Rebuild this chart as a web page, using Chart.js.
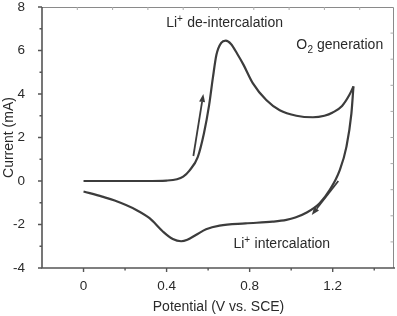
<!DOCTYPE html>
<html>
<head>
<meta charset="utf-8">
<script src="https://cdn.jsdelivr.net/npm/chart.js@4"></script>
<style>
  html, body { margin: 0; padding: 0; background: #fff; }
  canvas { display: block; }
</style>
</head>
<body>
<canvas id="cv" width="397" height="316"></canvas>
<script>
// forward (anodic) scan, 0 V -> 1.3 V
const potentialFwd = [0, 0.1, 0.2, 0.3, 0.4, 0.45, 0.48, 0.51, 0.55, 0.58, 0.605, 0.623, 0.64, 0.663, 0.685, 0.71, 0.74, 0.77, 0.815, 0.88, 0.945, 1.025, 1.105, 1.16, 1.2, 1.245, 1.28, 1.30];
const currentFwd   = [0, 0, 0, 0, 0.02, 0.08, 0.2, 0.48, 1.1, 2.2, 3.5, 4.75, 5.8, 6.35, 6.45, 6.3, 5.85, 5.35, 4.5, 3.72, 3.25, 3.0, 2.93, 3.0, 3.15, 3.45, 3.95, 4.35];

// reverse (cathodic) scan, 1.3 V -> 0 V
const potentialRev = [1.30, 1.29, 1.266, 1.234, 1.186, 1.137, 1.075, 1.02, 0.977, 0.91, 0.78, 0.655, 0.59, 0.543, 0.5, 0.47, 0.43, 0.382, 0.318, 0.254, 0.15, 0.09, 0];
const currentRev   = [4.35, 3.1, 1.57, 0.5, -0.41, -1.02, -1.45, -1.68, -1.79, -1.87, -1.95, -2.05, -2.22, -2.47, -2.7, -2.77, -2.67, -2.32, -1.71, -1.33, -0.9, -0.72, -0.48];

// axis ticks
const xMajorTicks = [0, 0.4, 0.8, 1.2];
const xMinorTicks = [0.2, 0.6, 1.0, 1.4];
const yMajorTicks = [-4, -2, 0, 2, 4, 6, 8];
const yMinorTicks = [-3, -1, 1, 3, 5, 7];

// annotations (data units)
const arrows = [
  { from: [0.529, 1.15], to: [0.577, 4.0] },
  { from: [1.227, 0.0], to: [1.099, -1.56] }
];
const notes = [
  { x: 0.398, y: 7.10, parts: [['Li', 'n'], ['+', 'sup'], [' de-intercalation', 'n']] },
  { x: 1.024, y: 6.05, parts: [['O', 'n'], ['2', 'sub'], [' generation', 'n']] },
  { x: 0.722, y: -3.08, parts: [['Li', 'n'], ['+', 'sup'], [' intercalation', 'n']] }
];

const FONT = "'Liberation Sans', Arial, Helvetica, sans-serif";
const TEXT_COLOR = '#2a2a2a';
const LINE_COLOR = '#3c3c3c';

function toPoints(xs, ys) {
  return xs.map(function (x, i) { return { x: x, y: ys[i] }; });
}

function drawRichText(ctx, parts, x, y) {
  var cx = x;
  parts.forEach(function (p) {
    var txt = p[0], kind = p[1];
    if (kind === 'sup') {
      ctx.font = '10px ' + FONT;
      ctx.fillText(txt, cx, y - 5);
    } else if (kind === 'sub') {
      ctx.font = '10px ' + FONT;
      ctx.fillText(txt, cx + 0.5, y + 4);
    } else {
      ctx.font = '14px ' + FONT;
      ctx.fillText(txt, cx, y);
    }
    cx += ctx.measureText(txt).width + (kind === 'n' ? 0 : 0.5);
  });
}

const framePlugin = {
  id: 'frame',
  afterDraw: function (chart) {
    var ctx = chart.ctx;
    var a = chart.chartArea;
    var xs = chart.scales.x, ys = chart.scales.y;
    ctx.save();

    // light top / right frame with small inward ticks
    ctx.strokeStyle = '#8a8a8a';
    ctx.lineWidth = 1;
    ctx.beginPath();
    ctx.moveTo(a.left, a.top + 0.5);
    ctx.lineTo(a.right - 1.5, a.top + 0.5);
    ctx.lineTo(a.right - 1.5, a.bottom);
    ctx.stroke();
    ctx.strokeStyle = '#aaaaaa';
    ctx.beginPath();
    for (var k = 1; k < 10; k++) {
      var tx = a.left + k * (a.right - a.left) / 10;
      ctx.moveTo(tx, a.top); ctx.lineTo(tx, a.top + 3);
      var ty = a.top + k * (a.bottom - a.top) / 10;
      ctx.moveTo(a.right - 1.5, ty); ctx.lineTo(a.right - 4.5, ty);
    }
    ctx.stroke();

    // left and bottom axes
    ctx.strokeStyle = '#555555';
    ctx.lineWidth = 1.6;
    ctx.beginPath();
    ctx.moveTo(a.left, a.top);
    ctx.lineTo(a.left, a.bottom);
    ctx.lineTo(a.right, a.bottom);
    ctx.stroke();

    ctx.lineWidth = 1.4;
    ctx.beginPath();
    xMajorTicks.forEach(function (v) {
      var px = xs.getPixelForValue(v);
      ctx.moveTo(px, a.bottom); ctx.lineTo(px, a.bottom + 4);
    });
    xMinorTicks.forEach(function (v) {
      var px = xs.getPixelForValue(v);
      ctx.moveTo(px, a.bottom); ctx.lineTo(px, a.bottom + 2.5);
    });
    yMajorTicks.forEach(function (v) {
      var py = ys.getPixelForValue(v);
      ctx.moveTo(a.left, py); ctx.lineTo(a.left - 4, py);
    });
    yMinorTicks.forEach(function (v) {
      var py = ys.getPixelForValue(v);
      ctx.moveTo(a.left, py); ctx.lineTo(a.left - 2.5, py);
    });
    ctx.stroke();

    // arrows
    ctx.strokeStyle = LINE_COLOR;
    ctx.fillStyle = LINE_COLOR;
    ctx.lineWidth = 1.8;
    arrows.forEach(function (ar) {
      var x0 = xs.getPixelForValue(ar.from[0]), y0 = ys.getPixelForValue(ar.from[1]);
      var x1 = xs.getPixelForValue(ar.to[0]), y1 = ys.getPixelForValue(ar.to[1]);
      var ang = Math.atan2(y1 - y0, x1 - x0);
      var hl = 8, hw = 3;
      var bx = x1 - hl * Math.cos(ang), by = y1 - hl * Math.sin(ang);
      ctx.beginPath();
      ctx.moveTo(x0, y0); ctx.lineTo(bx, by);
      ctx.stroke();
      ctx.beginPath();
      ctx.moveTo(x1, y1);
      ctx.lineTo(bx + hw * Math.sin(ang), by - hw * Math.cos(ang));
      ctx.lineTo(bx - hw * Math.sin(ang), by + hw * Math.cos(ang));
      ctx.closePath();
      ctx.fill();
    });

    // text notes
    ctx.fillStyle = TEXT_COLOR;
    ctx.textBaseline = 'alphabetic';
    ctx.textAlign = 'left';
    notes.forEach(function (n) {
      drawRichText(ctx, n.parts, xs.getPixelForValue(n.x), ys.getPixelForValue(n.y));
    });

    ctx.restore();
  }
};

new Chart(document.getElementById('cv').getContext('2d'), {
  type: 'scatter',
  data: {
    datasets: [{
      label: 'forward scan',
      data: toPoints(potentialFwd, currentFwd),
      showLine: true,
      borderColor: LINE_COLOR,
      borderWidth: 2.2,
      pointRadius: 0,
      cubicInterpolationMode: 'monotone',
      fill: false
    }, {
      label: 'reverse scan',
      data: toPoints(potentialRev, currentRev),
      showLine: true,
      borderColor: LINE_COLOR,
      borderWidth: 2.2,
      pointRadius: 0,
      cubicInterpolationMode: 'monotone',
      fill: false
    }]
  },
  options: {
    responsive: false,
    animation: false,
    layout: { padding: { top: 7, right: 2, left: 0, bottom: 0 } },
    plugins: { legend: { display: false }, tooltip: { enabled: false } },
    scales: {
      x: {
        type: 'linear',
        min: -0.2,
        max: 1.5,
        afterBuildTicks: function (scale) {
          scale.ticks = xMajorTicks.map(function (v) { return { value: v }; });
        },
        afterFit: function (scale) {
          scale.height = 48;
          scale.paddingLeft = 0; scale.paddingRight = 0;
        },
        grid: { display: false },
        border: { display: false },
        ticks: {
          color: TEXT_COLOR,
          font: { family: FONT, size: 13.5 },
          padding: 2,
          maxRotation: 0,
          callback: function (v) { return String(v); }
        },
        title: {
          display: true,
          text: 'Potential (V vs. SCE)',
          color: TEXT_COLOR,
          font: { family: FONT, size: 14 },
          padding: { top: 0, bottom: 0 }
        }
      },
      y: {
        type: 'linear',
        min: -4,
        max: 8,
        afterBuildTicks: function (scale) {
          scale.ticks = yMajorTicks.map(function (v) { return { value: v }; });
        },
        afterFit: function (scale) {
          scale.width = 42;
          scale.paddingTop = 0; scale.paddingBottom = 0;
        },
        grid: { display: false },
        border: { display: false },
        ticks: {
          color: TEXT_COLOR,
          font: { family: FONT, size: 13.5 },
          padding: 9
        },
        title: {
          display: true,
          text: 'Current (mA)',
          color: TEXT_COLOR,
          font: { family: FONT, size: 14 },
          padding: { top: 1, bottom: 0 }
        }
      }
    }
  },
  plugins: [framePlugin]
});
</script>
</body>
</html>
